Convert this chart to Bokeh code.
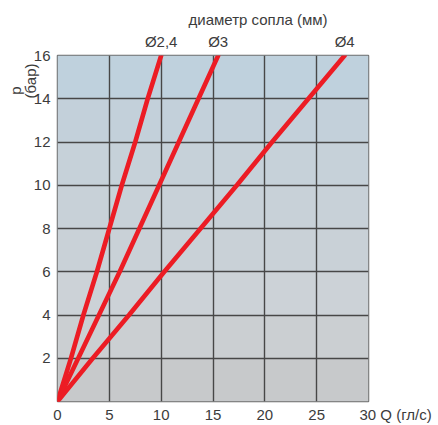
from bokeh.plotting import figure
from bokeh.models import Range1d, FixedTicker, LinearAxis, Title, BoxAnnotation
from bokeh.embed import file_html
from bokeh.resources import INLINE

# ---- data ----
p_bar = [0, 2, 4, 6, 8, 10, 12, 14, 16]
q_d24 = [0, 1.3, 2.5, 3.8, 5.0, 6.2, 7.5, 8.7, 10.0]
q_d3 = [0, 2.0, 4.0, 6.0, 7.9, 9.8, 11.7, 13.6, 15.5]
q_d4 = [0, 3.4, 6.9, 10.3, 13.8, 17.3, 20.7, 24.2, 27.7]
series_names = ["Ø2,4", "Ø3", "Ø4"]
x_ticks = [0, 5, 10, 15, 20, 25, 30]
y_ticks = [2, 4, 6, 8, 10, 12, 14, 16]
x_unit = "Q (гл/с)"
y_name = "p"
y_unit = "(бар)"
top_title = "диаметр сопла (мм)"

FONT = "Liberation Sans"
TXT = "#3c3c3c"
RED = "#ec1c24"
FS = "15px"

p = figure(width=438, height=425, output_backend="svg", toolbar_location=None,
           x_range=Range1d(0, 30), y_range=Range1d(0, 16),
           min_border_left=57, min_border_right=70, min_border_top=55, min_border_bottom=24)
p.border_fill_color = "white"
p.background_fill_color = "#c8cfd5"
p.outline_line_color = "#6e6e6e"
p.outline_line_width = 1.5

# background bands (decoration)
band_stops = [(0, "#c7c9cb"), (2, "#cbcfd2"), (4, "#ccd2d7"), (6, "#c9d1d7"),
              (8, "#c8d1d8"), (10, "#c6d1d9"), (12, "#c3d0da"), (14, "#bfd1dd"), (16, "#bfd1dd")]
for (b0, c0), (b1, c1) in zip(band_stops[:-1], band_stops[1:]):
    p.add_layout(BoxAnnotation(bottom=b0, top=b1, fill_color=c0, fill_alpha=1.0,
                               line_color=None, level="image"))

def style_axis(ax):
    ax.axis_line_color = None
    ax.major_tick_line_color = None
    ax.minor_tick_line_color = None
    ax.major_tick_out = 0
    ax.major_tick_in = 0
    ax.minor_tick_out = 0
    ax.minor_tick_in = 0
    ax.major_label_text_font = FONT
    ax.major_label_text_font_size = FS
    ax.major_label_text_color = TXT

style_axis(p.xaxis[0])
style_axis(p.yaxis[0])
p.xaxis[0].ticker = FixedTicker(ticks=x_ticks)
p.yaxis[0].ticker = FixedTicker(ticks=y_ticks)
p.xaxis[0].major_label_standoff = 4
p.yaxis[0].major_label_standoff = 7
# last x tick label carries the unit, padded so that the number stays centred on its tick
pad = "\u00a0" * 13
p.xaxis[0].major_label_overrides = {x_ticks[-1]: pad + f"{x_ticks[-1]} {x_unit}"}

p.xgrid[0].ticker = FixedTicker(ticks=x_ticks)
p.ygrid[0].ticker = FixedTicker(ticks=y_ticks)
for g in (p.xgrid[0], p.ygrid[0]):
    g.grid_line_color = "#474747"
    g.grid_line_width = 1.4

# lines
ends = []
for q in (q_d24, q_d3, q_d4):
    p.line(q, p_bar, line_color=RED, line_width=4.6, line_cap="round")
    ends.append(q[-1])

# top axis with diameter labels at line ends
top = LinearAxis(ticker=FixedTicker(ticks=ends),
                 major_label_overrides={e: n for e, n in zip(ends, series_names)})
style_axis(top)
top.major_label_standoff = 6
p.add_layout(top, "above")

p.add_layout(Title(text=top_title, align="left", offset=131, standoff=4,
                   text_font=FONT, text_font_size=FS, text_font_style="normal",
                   text_color=TXT), "above")

# y label: two rotated lines at the left
def left_title(text, offset, standoff):
    kw = dict(text=text, align="right", offset=offset, text_font=FONT, text_font_size=FS,
              text_font_style="normal", text_color=TXT)
    try:
        return Title(standoff=standoff, **kw)
    except Exception:
        return Title(standoff=0, **kw)

p.add_layout(left_title(y_unit, 8, -16), "left")
p.add_layout(left_title(y_name, 31, 8), "left")

open("out.html", "w").write(file_html(p, INLINE))
